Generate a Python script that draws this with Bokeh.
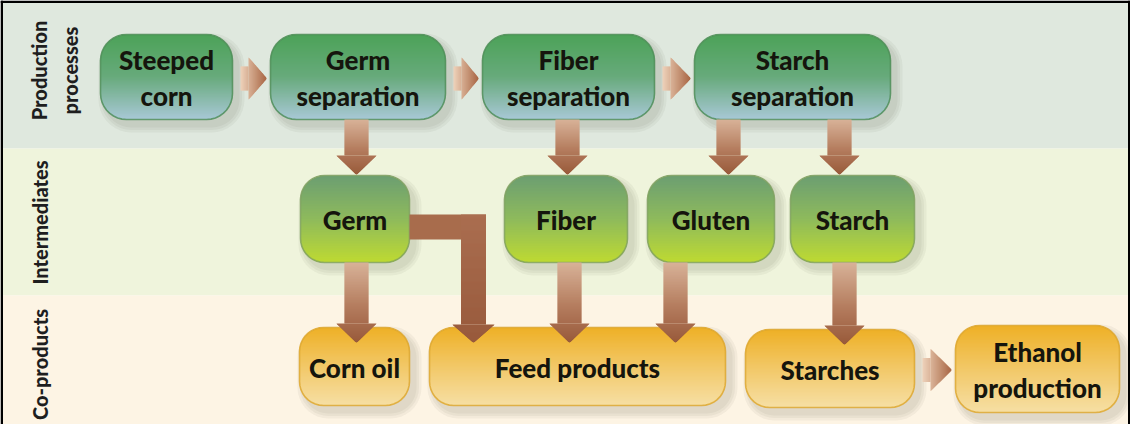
import numpy as np
from bokeh.plotting import figure
from bokeh.models import Range1d
from bokeh.core.properties import value
from bokeh.embed import file_html
from bokeh.resources import INLINE

# ---------------- content ----------------
stage_labels = ["Production\nprocesses", "Intermediates", "Co-products"]
process_labels = ["Steeped\ncorn", "Germ\nseparation", "Fiber\nseparation", "Starch\nseparation"]
intermediate_labels = ["Germ", "Fiber", "Gluten", "Starch"]
coproduct_labels = ["Corn oil", "Feed products", "Starches", "Ethanol\nproduction"]

# flows between nodes (row, index)
process_flow = [(("P", 0), ("P", 1)), (("P", 1), ("P", 2)), (("P", 2), ("P", 3))]
separation_flow = [(("P", 1), ("I", 0)), (("P", 2), ("I", 1)), (("P", 3), ("I", 2)), (("P", 3), ("I", 3))]
product_flow = [(("I", 0), ("C", 0)), (("I", 1), ("C", 1)), (("I", 2), ("C", 1)), (("I", 3), ("C", 2))]
elbow_flow = [(("I", 0), ("C", 1))]
final_flow = [(("C", 2), ("C", 3))]

# ---------------- layout (pixel space of the page) ----------------
band_tops = [9, 156, 303]
band_bottoms = [156, 303, 432]
band_colors = ["#dfe8de", "#eff4dc", "#fdf4e4"]
stage_x = [62, 47, 47]
stage_y = [78, 230, 372]

box_lr = {
    "P": [(108, 240), (278, 453), (490, 662), (702, 898)],
    "I": [(308, 417), (512, 635), (655, 782), (798, 922)],
    "C": [(307, 417), (437, 733), (753, 922), (963, 1127)],
}
box_tb = {
    "P": [(42, 127)] * 4,
    "I": [(183, 270)] * 4,
    "C": [(335, 413), (335, 413), (337, 415), (333, 420)],
}
row_radius = {"P": 26, "I": 24, "C": 24}
row_stops = {
    "P": [(0, (76, 162, 88)), (0.5, (104, 170, 124)), (1, (168, 200, 214))],
    "I": [(0, (108, 158, 114)), (0.5, (142, 186, 92)), (1, (190, 218, 50))],
    "C": [(0, (238, 176, 38)), (0.5, (242, 200, 104)), (1, (246, 223, 164))],
}
row_edge = {"P": "#4c8c55", "I": "#7fa060", "C": "#dca52c"}
row_labels = {"P": process_labels, "I": intermediate_labels, "C": coproduct_labels}

sep_arrow_x = [364, 575, 736, 847]
prod_arrow_x = [364, 577, 683, 852]
elbow_y = (222, 247)
elbow_x = 481

FONT = "Lato Black, Lato Heavy, Lato"

p = figure(width=1130, height=424, x_range=Range1d(8, 1138), y_range=Range1d(432, 8),
           output_backend="svg", toolbar_location=None, min_border=0,
           x_axis_type=None, y_axis_type=None)
p.grid.visible = False
p.outline_line_color = None
p.background_fill_color = "white"
p.border_fill_color = "white"


def lerp(stops, t):
    t = min(max(t, 0.0), 1.0)
    for (t0, c0), (t1, c1) in zip(stops[:-1], stops[1:]):
        if t <= t1:
            f = 0 if t1 == t0 else (t - t0) / (t1 - t0)
            c = [int(round(a + (b - a) * f)) for a, b in zip(c0, c1)]
            return "#%02x%02x%02x" % tuple(c)
    return "#%02x%02x%02x" % stops[-1][1]


def rr_poly(l, r, t, b, rad, n=10):
    xs, ys = [], []
    for cx, cy, a0 in [(r - rad, t + rad, -90), (r - rad, b - rad, 0), (l + rad, b - rad, 90), (l + rad, t + rad, 180)]:
        for a in np.radians(np.linspace(a0, a0 + 90, n)):
            xs.append(cx + rad * np.cos(a))
            ys.append(cy + rad * np.sin(a))
    return xs, ys


# bands
p.quad(left=8, right=1138, top=band_tops, bottom=band_bottoms, fill_color=band_colors, line_color=None)

# shadows
sh_x, sh_y = [], []
for row in ["P", "I", "C"]:
    for (l, r), (t, b) in zip(box_lr[row], box_tb[row]):
        for e in [7, 4.5, 2]:
            xs, ys = rr_poly(l + 5 - e, r + 5 + e, t + 6 - e, b + 6 + e, row_radius[row] + e)
            sh_x.append(xs)
            sh_y.append(ys)
p.patches(xs=sh_x, ys=sh_y, fill_color="#40402a", fill_alpha=0.05, line_color=None)

# gradient boxes
for row in ["P", "I", "C"]:
    L, R, T, B, C = [], [], [], [], []
    for (l, r), (t, b) in zip(box_lr[row], box_tb[row]):
        rad = row_radius[row]
        ys = np.arange(t, b, 1.0)
        yc = ys + 0.5
        dy = np.where(yc < t + rad, t + rad - yc, np.where(yc > b - rad, yc - (b - rad), 0))
        inset = rad - np.sqrt(np.maximum(rad ** 2 - dy ** 2, 0))
        L += list(l + inset)
        R += list(r - inset)
        T += list(ys)
        B += list(np.minimum(ys + 1.6, b))
        C += [lerp(row_stops[row], (y - t) / (b - t)) for y in yc]
    p.quad(left=L, right=R, top=T, bottom=B, fill_color=C, line_color=None)
    ox, oy = [], []
    for (l, r), (t, b) in zip(box_lr[row], box_tb[row]):
        xs, ys = rr_poly(l, r, t, b, row_radius[row])
        ox.append(xs)
        oy.append(ys)
    p.patches(xs=ox, ys=oy, fill_color=None, line_color=row_edge[row], line_width=1.6, line_alpha=0.8)

# ---------------- arrows ----------------
v_stops = [(0, (216, 178, 152)), (0.55, (180, 124, 94)), (1, (152, 90, 58))]
h_stops = [(0, (238, 210, 186)), (1, (168, 102, 68))]


def tapered(orient, a0, a1, c, segs, stops, px, py):
    """segs: list of (start, end, hw_start, hw_end) along axis; colours by position."""
    total = a1 - a0
    XS, YS, CS = [], [], []
    for s0, s1, h0, h1 in segs:
        n = max(int(np.ceil(s1 - s0)), 1)
        ed = np.linspace(s0, s1, n + 1)
        for i in range(n):
            u0, u1 = ed[i], ed[i + 1]
            w0 = h0 + (h1 - h0) * (u0 - s0) / (s1 - s0)
            w1 = h0 + (h1 - h0) * (u1 - s0) / (s1 - s0)
            u1e = min(u1 + 0.6, s1)
            if orient == "v":
                XS.append([c - w0, c + w0, c + w1, c - w1])
                YS.append([u0, u0, u1e, u1e])
            else:
                XS.append([u0, u0, u1e, u1e])
                YS.append([c - w0, c + w0, c + w1, c - w1])
            CS.append(lerp(stops, ((u0 + u1) / 2 - a0) / total))
    px += XS
    py += YS
    return CS


AX, AY, AC = [], [], []


def v_arrow(xc, y0, y1, shaft_w=24, head_w=40, head_len=19, stops=v_stops):
    segs = [(y0, y1 - head_len, shaft_w / 2, shaft_w / 2), (y1 - head_len, y1, head_w / 2, 0.3)]
    AC.extend(tapered("v", y0, y1, xc, segs, stops, AX, AY))


def h_arrow(x0, x1, yc, stem=8, stem_h=24, head_h=42, stops=h_stops):
    segs = [(x0, x0 + stem, stem_h / 2, stem_h / 2), (x0 + stem, x1, head_h / 2, 0.3)]
    AC.extend(tapered("h", x0, x1, yc, segs, stops, AX, AY))


# production chain chevrons
for (ra, ia), (rb, ib) in process_flow + final_flow:
    x0 = box_lr[ra][ia][1] + 8
    x1 = box_lr[rb][ib][0] - 4
    ta, ba = box_tb[ra][ia]
    h_arrow(x0, x1, (ta + ba) / 2 + 1.5)

# separations to intermediates
for ((ra, ia), (rb, ib)), xc in zip(separation_flow, sep_arrow_x):
    v_arrow(xc, box_tb[ra][ia][1], box_tb[rb][ib][0] - 1)

# intermediates to co-products
for ((ra, ia), (rb, ib)), xc in zip(product_flow, prod_arrow_x):
    v_arrow(xc, box_tb[ra][ia][1], box_tb[rb][ib][0] + 15)

p.patches(xs=AX, ys=AY, fill_color=AC, line_color=None)

# germ elbow to feed products
for (ra, ia), (rb, ib) in elbow_flow:
    AX, AY, AC = [], [], []
    e_stops = [(0, (170, 110, 80)), (1, (152, 90, 60))]
    p.quad(left=box_lr[ra][ia][1], right=elbow_x + 12.5, top=elbow_y[0], bottom=elbow_y[1],
           fill_color="#a86c4c", line_color=None)
    v_arrow(elbow_x, elbow_y[0], box_tb[rb][ib][0] + 15, shaft_w=25, head_w=42, head_len=18, stops=e_stops)
    p.patches(xs=AX, ys=AY, fill_color=AC, line_color=None)

# ---------------- texts ----------------
for row in ["P", "I", "C"]:
    xs = [(l + r) / 2 for l, r in box_lr[row]]
    ys = [(t + b) / 2 + 1 for t, b in box_tb[row]]
    p.text(x=xs, y=ys, text=row_labels[row], text_font=value(FONT), text_font_style="bold",
           text_font_size="26px", text_align="center", text_baseline="middle",
           text_line_height=1.12, text_color="#15150d")

p.text(x=stage_x, y=stage_y, text=stage_labels, angle=np.pi / 2, text_font=value(FONT),
       text_font_style="bold", text_font_size="20px", text_align="center", text_baseline="middle",
       text_line_height=1.3, text_color="#1e1e1e")

# frame
p.quad(left=[8, 8, 1135.5], right=[1138, 10.5, 1138], top=[8, 8, 8], bottom=[10.5, 432, 432],
       fill_color="black", line_color=None)

open("out.html", "w").write(file_html(p, INLINE))
